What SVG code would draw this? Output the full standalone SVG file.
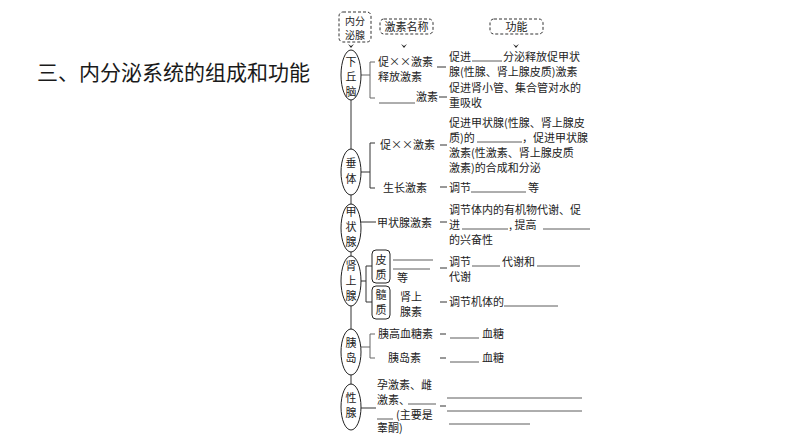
<svg xmlns="http://www.w3.org/2000/svg" width="794" height="446" viewBox="0 0 794 446">
<style>
.t{font-family:"Noto Sans CJK SC","Noto Sans",sans-serif;font-size:11px;fill:#222}
.s{font-size:10px}
.title{font-family:"Noto Sans CJK SC","Noto Sans",sans-serif;font-size:21px;fill:#1a1a1a}
.e{fill:#fff;stroke:#222;stroke-width:1}
.dash{fill:none;stroke:#333;stroke-width:1;stroke-dasharray:3,2}
.ln{stroke:#333;stroke-width:1;fill:none}
.br{stroke:#666;stroke-width:1;fill:none}
.bl{stroke:#333;stroke-width:0.8}
</style>
<rect width="794" height="446" fill="#fff"/>
<text class="title" x="37" y="80">三、内分泌系统的组成和功能</text>

<g id="connectors">
<line class="ln" x1="351" y1="100" x2="351" y2="385"/>
<path d="M348,44 L351,48 L354,44 L351,46 Z" fill="#222"/>
<path d="M401,44 L404,48 L407,44 L404,46 Z" fill="#222"/>
<path d="M513,44 L516,48 L519,44 L516,46 Z" fill="#222"/>
<path class="br" d="M360,75 H370 M375,62 H370 V98 H375"/>
<line class="ln" x1="437" y1="67" x2="446" y2="67"/>
<line class="ln" x1="439" y1="97" x2="447" y2="97"/>
<path class="ln" d="M360,172 H370 M375,143 H370 V188 H375"/>
<line class="ln" x1="440" y1="145" x2="447" y2="145"/>
<line class="ln" x1="440" y1="187" x2="447" y2="187"/>
<line class="ln" x1="360" y1="222" x2="376" y2="222"/>
<line class="ln" x1="440" y1="222" x2="447" y2="222"/>
<path class="ln" d="M360,281 H366 M372,266 H366 V302 H372"/>
<line class="ln" x1="440" y1="268" x2="447" y2="268"/>
<line class="ln" x1="440" y1="302" x2="447" y2="302"/>
<path class="br" d="M360,347 H370 M375,334 H370 V358 H375"/>
<line class="ln" x1="440" y1="334" x2="446" y2="334"/>
<line class="ln" x1="440" y1="358" x2="446" y2="358"/>
<line class="ln" x1="360" y1="408" x2="376" y2="408"/>
<line class="ln" x1="440" y1="406" x2="446" y2="406"/>
</g>

<g id="header-gland">
<rect class="dash" x="339" y="12" width="32" height="30" rx="4"/>
<text class="t s" x="355" y="24.5" text-anchor="middle">内分</text>
<text class="t s" x="355" y="39" text-anchor="middle">泌腺</text>
</g>
<g id="header-name">
<rect class="dash" x="380" y="19" width="53" height="15" rx="4"/>
<text class="t" x="406.5" y="30.5" text-anchor="middle">激素名称</text>
</g>
<g id="header-func">
<rect class="dash" x="490" y="19" width="53" height="15" rx="4"/>
<text class="t" x="516.5" y="30.5" text-anchor="middle">功能</text>
</g>

<g id="hypothalamus">
<ellipse class="e" cx="351" cy="75" rx="10" ry="25"/>
<text class="t" x="351" y="66" text-anchor="middle">下</text>
<text class="t" x="351" y="81" text-anchor="middle">丘</text>
<text class="t" x="351" y="96" text-anchor="middle">脑</text>
<text class="t" x="378" y="66">促××激素</text>
<text class="t" x="378" y="81">释放激素</text>
<text class="t" x="449" y="61">促进</text>
<line class="bl" x1="472" y1="61" x2="502" y2="61"/>
<text class="t" x="503" y="61">分泌释放促甲状</text>
<text class="t" x="449" y="76">腺(性腺、肾上腺皮质)激素</text>
<line class="bl" x1="379" y1="103" x2="415" y2="103"/>
<text class="t" x="416" y="101">激素</text>
<text class="t" x="449" y="92">促进肾小管、集合管对水的</text>
<text class="t" x="449" y="107">重吸收</text>
</g>

<g id="pituitary">
<ellipse class="e" cx="351" cy="172" rx="10" ry="23"/>
<text class="t" x="351" y="167" text-anchor="middle">垂</text>
<text class="t" x="351" y="183" text-anchor="middle">体</text>
<text class="t" x="380" y="149">促××激素</text>
<text class="t" x="449" y="127">促进甲状腺(性腺、肾上腺皮</text>
<text class="t" x="449" y="142">质)的</text>
<line class="bl" x1="477" y1="142" x2="522" y2="142"/>
<text class="t" x="522" y="142">，促进甲状腺</text>
<text class="t" x="449" y="157">激素(性激素、肾上腺皮质</text>
<text class="t" x="449" y="172">激素)的合成和分泌</text>
<text class="t" x="383" y="192">生长激素</text>
<text class="t" x="449" y="192">调节</text>
<line class="bl" x1="471" y1="192" x2="526" y2="192"/>
<text class="t" x="528" y="192">等</text>
</g>

<g id="thyroid">
<ellipse class="e" cx="351" cy="228" rx="10" ry="24"/>
<text class="t" x="351" y="216" text-anchor="middle">甲</text>
<text class="t" x="351" y="231" text-anchor="middle">状</text>
<text class="t" x="351" y="246" text-anchor="middle">腺</text>
<text class="t" x="377" y="227">甲状腺激素</text>
<text class="t" x="449" y="214">调节体内的有机物代谢、促</text>
<text class="t" x="449" y="229">进</text>
<line class="bl" x1="462" y1="229" x2="508" y2="229"/>
<text class="t" x="509" y="229">, 提高</text>
<line class="bl" x1="543" y1="229" x2="590" y2="229"/>
<text class="t" x="449" y="244">的兴奋性</text>
</g>

<g id="adrenal">
<ellipse class="e" cx="351" cy="281" rx="10" ry="25"/>
<text class="t" x="351" y="270" text-anchor="middle">肾</text>
<text class="t" x="351" y="285" text-anchor="middle">上</text>
<text class="t" x="351" y="300" text-anchor="middle">腺</text>
<rect class="e" x="372" y="250" width="18" height="33" rx="4"/>
<text class="t" x="381" y="264" text-anchor="middle">皮</text>
<text class="t" x="381" y="279" text-anchor="middle">质</text>
<line class="bl" x1="393" y1="260" x2="433" y2="260"/>
<line class="bl" x1="393" y1="269" x2="430" y2="269"/>
<text class="t" x="397" y="282">等</text>
<text class="t" x="449" y="266">调节</text>
<line class="bl" x1="472" y1="266" x2="500" y2="266"/>
<text class="t" x="502" y="266">代谢和</text>
<line class="bl" x1="537" y1="266" x2="580" y2="266"/>
<text class="t" x="449" y="281">代谢</text>
<rect class="e" x="372" y="286" width="18" height="33" rx="4"/>
<text class="t" x="381" y="299" text-anchor="middle">髓</text>
<text class="t" x="381" y="314" text-anchor="middle">质</text>
<text class="t" x="400" y="301">肾上</text>
<text class="t" x="400" y="316">腺素</text>
<text class="t" x="449" y="306">调节机体的</text>
<line class="bl" x1="504" y1="306" x2="558" y2="306"/>
</g>

<g id="islet">
<ellipse class="e" cx="351" cy="352" rx="10" ry="23"/>
<text class="t" x="351" y="347" text-anchor="middle">胰</text>
<text class="t" x="351" y="362" text-anchor="middle">岛</text>
<text class="t" x="378" y="338">胰高血糖素</text>
<line class="bl" x1="450" y1="338" x2="479" y2="338"/>
<text class="t" x="482" y="338">血糖</text>
<text class="t" x="388" y="362">胰岛素</text>
<line class="bl" x1="450" y1="362" x2="479" y2="362"/>
<text class="t" x="482" y="362">血糖</text>
</g>

<g id="gonad">
<ellipse class="e" cx="351" cy="407" rx="10" ry="23"/>
<text class="t" x="351" y="402" text-anchor="middle">性</text>
<text class="t" x="351" y="417" text-anchor="middle">腺</text>
<text class="t" x="377" y="389">孕激素、雌</text>
<text class="t" x="377" y="404">激素、</text>
<line class="bl" x1="408" y1="404" x2="436" y2="404"/>
<line class="bl" x1="377" y1="419" x2="393" y2="419"/>
<text class="t" x="396" y="419">(主要是</text>
<text class="t" x="377" y="432">睾酮)</text>
<line class="bl" x1="447" y1="398" x2="582" y2="398"/>
<line class="bl" x1="447" y1="411" x2="582" y2="411"/>
<line class="bl" x1="449" y1="424" x2="530" y2="424"/>
</g>
</svg>
